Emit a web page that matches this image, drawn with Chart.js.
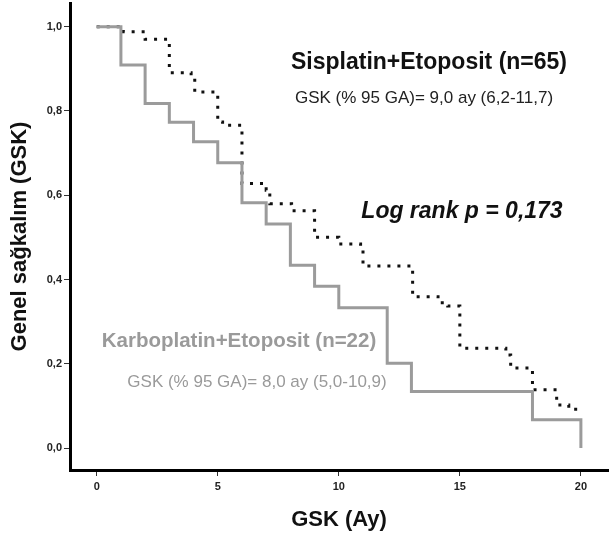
<!DOCTYPE html>
<html>
<head>
<meta charset="utf-8">
<script src="https://cdn.jsdelivr.net/npm/chart.js@4/dist/chart.umd.min.js"></script>
<style>
  html, body { margin: 0; padding: 0; background: #fff; }
  #wrap { width: 609px; height: 533px; }
</style>
</head>
<body>
<div id="wrap"><canvas id="kmChart"></canvas></div>
<script>

// Kaplan-Meier steps (months, survival)
var carboTimes = [0, 1, 2, 3, 4, 5, 6, 7, 8, 9, 10, 12, 13, 18, 20];
var carboSurv  = [1.0, 0.909, 0.818, 0.773, 0.727, 0.677, 0.582, 0.532, 0.434, 0.384, 0.333, 0.201, 0.134, 0.067, 0.0];

var sisTimes = [0, 1.1, 2.0, 3.0, 3.9, 4.05, 5.0, 5.2, 6.0, 7.0, 7.15, 8.05, 9.0, 10.0, 10.9, 11.0, 13.05, 14.1, 14.5, 15.0, 16.9, 17.1, 18.0, 19.0, 19.5, 20];
var sisSurv  = [1.0, 0.988, 0.970, 0.891, 0.881, 0.845, 0.774, 0.766, 0.628, 0.612, 0.580, 0.563, 0.500, 0.484, 0.474, 0.432, 0.359, 0.345, 0.337, 0.237, 0.221, 0.190, 0.138, 0.102, 0.092, 0.092];

var xTicks = [0, 5, 10, 15, 20];
var xTickLabels = ['0', '5', '10', '15', '20'];
var yTicks = [0, 0.2, 0.4, 0.6, 0.8, 1.0];
var yTickLabels = ['0,0', '0,2', '0,4', '0,6', '0,8', '1,0'];

function toPoints(times, surv) {
	return times.map(function (t, i) { return { x: t, y: surv[i] }; });
}

var FONT = "'Liberation Sans', Arial, sans-serif";
Chart.defaults.font.family = FONT;

// text written inside the plot
var notes = [
	{ text: 'Sisplatin+Etoposit (n=65)', x: 429, y: 63, font: 'bold 23px ' + FONT, color: '#111' },
	{ text: 'GSK (% 95 GA)= 9,0 ay (6,2-11,7)', x: 424, y: 98, font: '17px ' + FONT, color: '#222' },
	{ text: 'Log rank p = 0,173', x: 462, y: 212, font: 'italic bold 23px ' + FONT, color: '#111' },
	{ text: 'Karboplatin+Etoposit (n=22)', x: 239, y: 341, font: 'bold 20.5px ' + FONT, color: '#9a9a9a' },
	{ text: 'GSK (% 95 GA)= 8,0 ay (5,0-10,9)', x: 257, y: 382, font: '17px ' + FONT, color: '#9a9a9a' }
];

var notesPlugin = {
	id: 'notes',
	afterDraw: function (chart) {
		var ctx = chart.ctx;
		ctx.save();
		ctx.textAlign = 'center';
		ctx.textBaseline = 'middle';
		notes.forEach(function (n) {
			ctx.font = n.font;
			ctx.fillStyle = n.color;
			ctx.fillText(n.text, n.x, n.y);
		});
		ctx.restore();
	}
};

// keep the plot box fixed: no extra room for tick labels
function noPad(scale) {
	scale.paddingTop = 0;
	scale.paddingBottom = 0;
	scale.paddingLeft = 0;
	scale.paddingRight = 0;
}

var ctx = document.getElementById('kmChart').getContext('2d');
var kmChart = new Chart(ctx, {
	type: 'line',
	data: {
		datasets: [{
			label: 'Karboplatin+Etoposit',
			data: toPoints(carboTimes, carboSurv),
			borderColor: '#9b9b9b',
			borderWidth: 3,
			stepped: 'before',
			pointRadius: 0,
			fill: false
		}, {
			label: 'Sisplatin+Etoposit',
			data: toPoints(sisTimes, sisSurv),
			borderColor: '#111',
			borderWidth: 3,
			borderDash: [3, 7],
			stepped: 'before',
			pointRadius: 0,
			fill: false
		}]
	},
	options: {
		responsive: true,
		maintainAspectRatio: false,
		animation: false,
		layout: { padding: { top: 3, right: 1, left: 0, bottom: 0 } },
		plugins: {
			legend: { display: false },
			tooltip: { enabled: false }
		},
		scales: {
			x: {
				type: 'linear',
				min: -1.103,
				max: 21.12,
				afterBuildTicks: function (scale) {
					scale.ticks = xTicks.map(function (v) { return { value: v }; });
				},
				afterFit: function (scale) { scale.height = 63; noPad(scale); },
				ticks: {
					padding: 4,
					color: '#222',
					font: { size: 11, weight: 'bold' },
					callback: function (value, index) { return xTickLabels[index]; }
				},
				grid: { drawOnChartArea: false, drawTicks: true, tickLength: 6, tickColor: '#333', tickWidth: 1 },
				border: { display: true, color: '#000', width: 3 },
				title: {
					display: true,
					text: 'GSK (Ay)',
					color: '#111',
					font: { size: 22, weight: 'bold' },
					padding: { top: 3, bottom: 0 }
				}
			},
			y: {
				type: 'linear',
				min: -0.0522,
				max: 1.0563,
				afterBuildTicks: function (scale) {
					scale.ticks = yTicks.map(function (v) { return { value: v }; });
				},
				afterFit: function (scale) { scale.width = 70; noPad(scale); },
				ticks: {
					padding: 2,
					color: '#222',
					font: { size: 11, weight: 'bold' },
					callback: function (value, index) { return yTickLabels[index]; }
				},
				grid: { drawOnChartArea: false, drawTicks: true, tickLength: 6, tickColor: '#333', tickWidth: 1 },
				border: { display: true, color: '#000', width: 3 },
				title: {
					display: true,
					text: 'Genel sağkalım (GSK)',
					color: '#111',
					font: { size: 22, weight: 'bold' },
					padding: { top: 7, bottom: 0 }
				}
			}
		}
	},
	plugins: [notesPlugin]
});
</script>
</body>
</html>
